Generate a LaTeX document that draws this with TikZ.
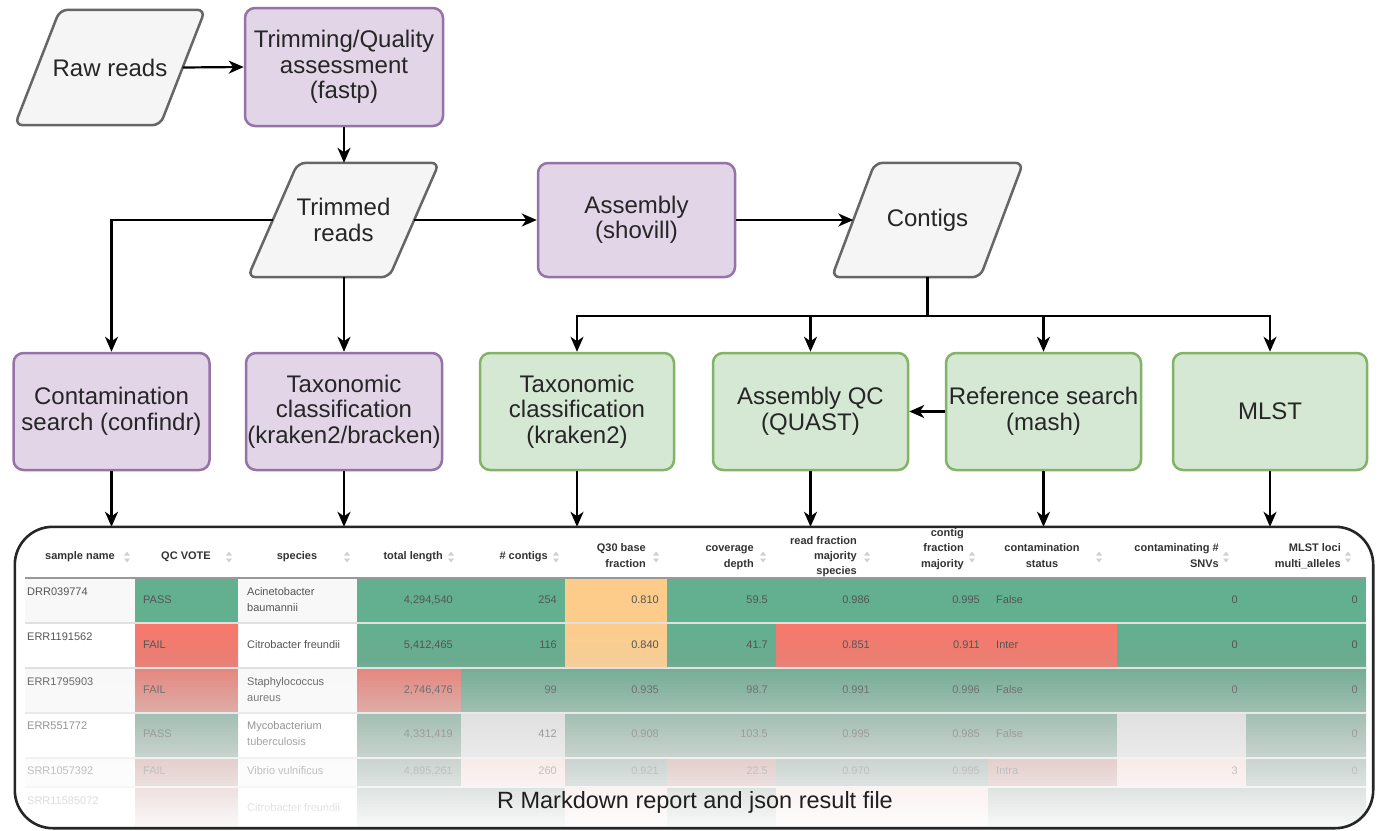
\documentclass[tikz,border=0pt]{standalone}
\usepackage{fontspec}
\setmainfont{Liberation Sans}
\usetikzlibrary{arrows.meta,backgrounds,calc}

\definecolor{purfill}{HTML}{E1D5E7}
\definecolor{purline}{HTML}{9673A6}
\definecolor{grnfill}{HTML}{D5E8D4}
\definecolor{grnline}{HTML}{82B366}
\definecolor{gryfill}{HTML}{F5F5F5}
\definecolor{gryline}{HTML}{666666}
\definecolor{cG}{RGB}{98,176,143}
\definecolor{cR}{RGB}{248,120,107}
\definecolor{cO}{RGB}{253,204,139}
\definecolor{cN}{RGB}{211,211,211}
\definecolor{cP}{RGB}{255,205,198}
\definecolor{cS}{RGB}{248,248,248}
\definecolor{gG}{RGB}{149,149,149}
\definecolor{gR}{RGB}{160,160,160}
\definecolor{gO}{RGB}{212,212,212}
\definecolor{gP}{RGB}{219,219,219}
\definecolor{txt}{HTML}{555555}
\definecolor{hdr}{HTML}{333333}
\definecolor{icn}{HTML}{D0D0D0}

\newcommand{\bxfont}{\fontsize{24}{25.5}\selectfont}
\newcommand{\tbfont}{\fontsize{11}{13}\selectfont}
\newcommand{\rpfont}{\fontsize{23.5}{26}\selectfont}
\newcounter{tn}
\newcommand{\tcell}[4]{\stepcounter{tn}\node[tt,anchor=#1] (tx\arabic{tn}) at (#2,#3) {#4};}
\newcommand{\hcell}[4]{\stepcounter{tn}\node[th,anchor=#1] (tx\arabic{tn}) at (#2,#3) {#4};}
\newcommand{\cfill}[5]{\fill[#5] (#1,#3) rectangle (#2,#4);}
\newcommand{\sfill}[8]{\shade[top color=#5!#7!#6, bottom color=#5!#8!#6] (#1,#3) rectangle (#2,#4);}
\newcommand{\sorti}[2]{\fill[icn] ({#1-3},{#2-1.5}) -- ({#1+3},{#2-1.5}) -- (#1,{#2-5.5}) -- cycle;
  \fill[icn] ({#1-3},{#2+1.5}) -- ({#1+3},{#2+1.5}) -- (#1,{#2+5.5}) -- cycle;}

\begin{document}
\begin{tikzpicture}[x=1pt,y=-1pt,
  proc/.style={rectangle, rounded corners=10, line width=2.5, minimum width=196,
    minimum height=117, align=center, font=\bxfont, text=black!85, inner sep=0},
  purp/.style={proc, fill=purfill, draw=purline},
  grn/.style={proc, fill=grnfill, draw=grnline},
  datan/.style={rectangle, minimum height=114, align=center, font=\bxfont,
    text=black!85, inner sep=0},
  para/.style={fill=gryfill, draw=gryline, line width=2.5, rounded corners=8},
  arr/.style={-{Stealth[length=15,width=13,inset=4.5]}, line width=2.2, black},
  plain/.style={line width=2.2, black},
  tt/.style={font=\tbfont, text=txt, inner sep=0, text height=8, text depth=2.5},
  th/.style={font=\tbfont\bfseries, text=hdr, inner sep=0, text height=8, text depth=2.5},
  sep/.style={draw=white!88!black, line width=1.2}
]
\useasboundingbox (0,0) rectangle (1381,830);

% ---------- data (parallelogram) nodes ----------
\node[datan, minimum width=190, minimum height=115] (raw) at (110,67.5) {Raw reads};
\node[datan, minimum width=191] (trimmed) at (343.5,220) {Trimmed\\reads};
\node[datan, minimum width=191] (contigs) at (927.5,220) {Contigs};
\begin{scope}[on background layer]
  \draw[para] ([xshift=45]raw.north west) -- (raw.north east) -- ([xshift=-45]raw.south east) -- (raw.south west) -- cycle;
  \draw[para] ([xshift=50]trimmed.north west) -- (trimmed.north east) -- ([xshift=-50]trimmed.south east) -- (trimmed.south west) -- cycle;
  \draw[para] ([xshift=43]contigs.north west) -- (contigs.north east) -- ([xshift=-43]contigs.south east) -- (contigs.south west) -- cycle;
\end{scope}

% ---------- process nodes ----------
\node[purp, minimum width=198, minimum height=118] (trim) at (344,67) {Trimming/Quality\\assessment\\(fastp)};
\node[purp, minimum width=197, minimum height=114] (asm) at (636.5,220) {Assembly\\(shovill)};
\node[purp] (cont) at (111.5,411.5) {Contamination\\search (confindr)};
\node[purp] (taxb) at (344,411.5) {Taxonomic\\classification\\(kraken2/bracken)};
\node[grn, minimum width=194] (taxk) at (577,411.5) {Taxonomic\\classification\\(kraken2)};
\node[grn, minimum width=195] (aqc) at (810.5,411.5) {Assembly QC\\(QUAST)};
\node[grn, minimum width=195] (ref) at (1043.5,411.5) {Reference search\\(mash)};
\node[grn, minimum width=194] (mlst) at (1270,411.5) {MLST};

% ---------- report box ----------
\node[rectangle, fill=white, minimum width=1358, minimum height=301, inner sep=0] (report) at (694,677.5) {};

% ---------- connectors ----------
\draw[arr] ([xshift=-22.5]raw.east) -- (trim.west);
\draw[arr] (trim.south) -- (trim.south |- trimmed.north);
\draw[arr] ([xshift=-25]trimmed.east) -- (asm.west);
\draw[arr] (asm.east) -- ([xshift=21.5]contigs.west);
\draw[arr] ([xshift=25]trimmed.west) -| (cont.north);
\draw[arr] (taxb.north |- trimmed.south) -- (taxb.north);
\coordinate (split) at (927.5,316);
\draw[plain] (contigs.south) -- (split);
\draw[arr] (split) -| (taxk.north);
\draw[arr] (split) -| (aqc.north);
\draw[arr] (split) -| (ref.north);
\draw[arr] (split) -| (mlst.north);
\draw[arr] (ref.west) -- (aqc.east);
\foreach \n in {cont,taxb,taxk,aqc,ref,mlst}
  \draw[arr] (\n.south) -- (\n.south |- report.north);

% ---------- table ----------
\begin{scope}
\clip[rounded corners=38] (report.north west) rectangle (report.south east);
% row 1
\cfill{25}{135}{578}{623}{cS}\cfill{135}{238}{578}{623}{cG}\cfill{238}{357}{578}{623}{cS}
\cfill{357}{565}{578}{623}{cG}\cfill{565}{667}{578}{623}{cO}\cfill{667}{1366}{578}{623}{cG}
% row 2
\sfill{135}{238}{623}{668}{cR}{gR}{100}{80}\sfill{357}{565}{623}{668}{cG}{gG}{100}{80}
\sfill{565}{667}{623}{668}{cO}{gO}{100}{80}\sfill{667}{776}{623}{668}{cG}{gG}{100}{80}
\sfill{776}{1117}{623}{668}{cR}{gR}{100}{80}\sfill{1117}{1366}{623}{668}{cG}{gG}{100}{80}
% row 3
\cfill{25}{135}{668}{713}{cS}\sfill{135}{238}{668}{713}{cR}{gR}{78}{55}\cfill{238}{357}{668}{713}{cS}
\sfill{357}{461}{668}{713}{cR}{gR}{78}{55}\sfill{461}{1366}{668}{713}{cG}{gG}{78}{55}
% row 4
\sfill{135}{238}{713}{758}{cG}{gG}{52}{32}\sfill{357}{461}{713}{758}{cG}{gG}{52}{32}
\cfill{461}{565}{713}{758}{cN}\sfill{565}{1117}{713}{758}{cG}{gG}{52}{32}
\cfill{1117}{1246}{713}{758}{cN}\sfill{1246}{1366}{713}{758}{cG}{gG}{52}{32}
% row 5
\cfill{25}{135}{758}{787}{cS}\sfill{135}{238}{758}{787}{cR}{gR}{40}{30}\cfill{238}{357}{758}{787}{cS}
\sfill{357}{461}{758}{787}{cG}{gG}{30}{25}\sfill{461}{565}{758}{787}{cP}{gP}{60}{50}
\sfill{565}{667}{758}{787}{cG}{gG}{30}{25}\sfill{667}{776}{758}{787}{cR}{gR}{40}{30}
\sfill{776}{988}{758}{787}{cG}{gG}{30}{25}\sfill{988}{1117}{758}{787}{cR}{gR}{40}{30}
\sfill{1117}{1246}{758}{787}{cP}{gP}{60}{50}\sfill{1246}{1366}{758}{787}{cG}{gG}{30}{25}
% row 6
\sfill{135}{238}{787}{831}{cR}{gR}{40}{30}\sfill{357}{565}{787}{831}{cG}{gG}{25}{20}
\sfill{565}{667}{787}{831}{cP}{gP}{60}{50}\sfill{667}{776}{787}{831}{cG}{gG}{25}{20}
\sfill{776}{988}{787}{831}{cP}{gP}{60}{50}\sfill{988}{1366}{787}{831}{cG}{gG}{25}{20}
% separators
\foreach \yy in {623,668,713,758,787}
  \draw[sep] (25,\yy) -- (1366,\yy);
\draw[draw=white!60!black, line width=2] (25,578) -- (1366,578);

% header
\hcell{center}{80}{557}{sample name}\sorti{127}{557}
\hcell{center}{186}{557}{QC VOTE}\sorti{229}{557}
\hcell{center}{297}{557}{species}\sorti{347}{557}
\hcell{east}{443}{557}{total length}\sorti{451}{557}
\hcell{east}{548}{557}{\# contigs}\sorti{556}{557}
\hcell{east}{646}{549}{Q30 base}\hcell{east}{646}{565}{fraction}\sorti{656}{557}
\hcell{east}{754}{549}{coverage}\hcell{east}{754}{565}{depth}\sorti{763}{557}
\hcell{east}{857}{542}{read fraction}\hcell{east}{857}{557}{majority}\hcell{east}{857}{572}{species}\sorti{867}{557}
\hcell{east}{964}{534}{contig}\hcell{east}{964}{549}{fraction}\hcell{east}{964}{565}{majority}\sorti{972}{557}
\hcell{center}{1042}{549}{contamination}\hcell{center}{1042}{565}{status}\sorti{1099}{557}
\hcell{east}{1219}{549}{contaminating \#}\hcell{east}{1219}{565}{SNVs}\sorti{1226}{557}
\hcell{east}{1341}{549}{MLST loci}\hcell{east}{1341}{565}{multi\_alleles}\sorti{1348}{557}

% row 1 text
\tcell{west}{27}{593}{DRR039774}\tcell{west}{143}{601}{PASS}
\tcell{west}{247}{593}{Acinetobacter}\tcell{west}{247}{609}{baumannii}
\tcell{east}{453}{601}{4,294,540}\tcell{east}{557}{601}{254}\tcell{east}{659}{601}{0.810}
\tcell{east}{768}{601}{59.5}\tcell{east}{870}{601}{0.986}\tcell{east}{980}{601}{0.995}
\tcell{west}{996}{601}{False}\tcell{east}{1238}{601}{0}\tcell{east}{1358}{601}{0}
% row 2 text
\tcell{west}{27}{638}{ERR1191562}\tcell{west}{143}{646}{FAIL}
\tcell{west}{247}{646}{Citrobacter freundii}
\tcell{east}{453}{646}{5,412,465}\tcell{east}{557}{646}{116}\tcell{east}{659}{646}{0.840}
\tcell{east}{768}{646}{41.7}\tcell{east}{870}{646}{0.851}\tcell{east}{980}{646}{0.911}
\tcell{west}{996}{646}{Inter}\tcell{east}{1238}{646}{0}\tcell{east}{1358}{646}{0}
% row 3 text
\tcell{west}{27}{683}{ERR1795903}\tcell{west}{143}{691}{FAIL}
\tcell{west}{247}{683}{Staphylococcus}\tcell{west}{247}{699}{aureus}
\tcell{east}{453}{691}{2,746,476}\tcell{east}{557}{691}{99}\tcell{east}{659}{691}{0.935}
\tcell{east}{768}{691}{98.7}\tcell{east}{870}{691}{0.991}\tcell{east}{980}{691}{0.996}
\tcell{west}{996}{691}{False}\tcell{east}{1238}{691}{0}\tcell{east}{1358}{691}{0}
% row 4 text
\tcell{west}{27}{727}{ERR551772}\tcell{west}{143}{735}{PASS}
\tcell{west}{247}{727}{Mycobacterium}\tcell{west}{247}{743}{tuberculosis}
\tcell{east}{453}{735}{4,331,419}\tcell{east}{557}{735}{412}\tcell{east}{659}{735}{0.908}
\tcell{east}{768}{735}{103.5}\tcell{east}{870}{735}{0.995}\tcell{east}{980}{735}{0.985}
\tcell{west}{996}{735}{False}\tcell{east}{1358}{735}{0}
% row 5 text
\tcell{west}{27}{772}{SRR1057392}\tcell{west}{143}{772}{FAIL}
\tcell{west}{247}{772}{Vibrio vulnificus}
\tcell{east}{453}{772}{4,895,261}\tcell{east}{557}{772}{260}\tcell{east}{659}{772}{0.921}
\tcell{east}{768}{772}{22.5}\tcell{east}{870}{772}{0.970}\tcell{east}{980}{772}{0.995}
\tcell{west}{996}{772}{Intra}\tcell{east}{1238}{772}{3}\tcell{east}{1358}{772}{0}
% row 6 text
\tcell{west}{27}{802}{SRR11585072}\tcell{west}{247}{809}{Citrobacter freundii}

% whitening fade
\foreach \i in {0,...,56} {
  \pgfmathsetmacro{\op}{0.97*((\i+0.5)/57)}
  \fill[white, opacity=\op] (15,{660+3*\i}) rectangle (1373,{663+3*\i});
}
\end{scope}

\node[font=\rpfont, text=black!88, inner sep=0] (rlabel) at (695,802) {R Markdown report and json result file};
\draw[line width=2.6, black!85, rounded corners=38] (report.north west) rectangle (report.south east);
\end{tikzpicture}
\end{document}
